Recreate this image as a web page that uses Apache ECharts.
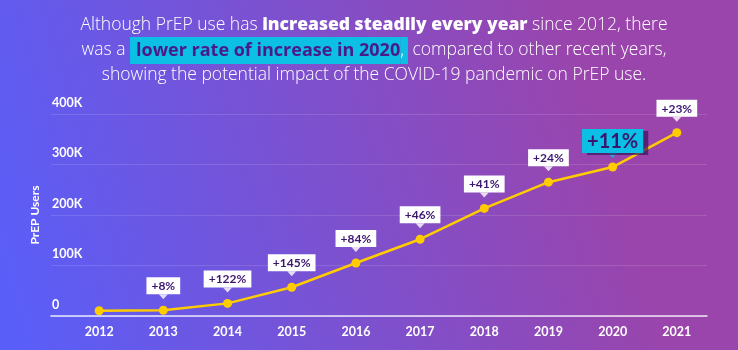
<!DOCTYPE html>
<html>
<head>
<meta charset="utf-8">
<script src="https://cdn.jsdelivr.net/npm/echarts@6/dist/echarts.min.js"></script>
<style>
  html, body { margin: 0; padding: 0; }
  #chart { width: 738px; height: 350px; }
</style>
</head>
<body>
<div id="chart"></div>
<script>
// data
const years = [2012, 2013, 2014, 2015, 2016, 2017, 2018, 2019, 2020, 2021];
const users = [10500, 11400, 25000, 57000, 105000, 152000, 213000, 265000, 295000, 363000];
const changes = ['', '+8%', '+122%', '+145%', '+84%', '+46%', '+41%', '+24%', '+11%', '+23%'];
const yTicks = [0, 100000, 200000, 300000, 400000];
const highlightYear = 2020;

const FONT = 'Lato';
const TITLE_FONT = 'Open Sans';
const INK = '#3b1670';
const CYAN = '#0cbfe4';

let chartDom = document.getElementById('chart');
let myChart = echarts.init(chartDom);

// line points, with the % change box above each one
let linePoints = years.map((y, i) => {
    let item = { value: [y, users[i]] };
    if (!changes[i]) {
        item.label = { show: false };
    } else if (y === highlightYear) {
        item.label = {
            show: true,
            distance: 9.5,
            backgroundColor: CYAN,
            fontSize: 20,
            padding: [3, 5, 1, 5],
            shadowColor: 'rgba(60,20,90,0.7)',
            shadowOffsetX: 5,
            shadowOffsetY: 2,
        };
    }
    return item;
});

// little pointer under each box
let pointers = [];
years.forEach((y, i) => {
    if (!changes[i]) return;
    let hl = y === highlightYear;
    pointers.push({
        value: [y, users[i]],
        symbolOffset: [0, hl ? -11.5 : -13.5],
        itemStyle: { color: hl ? CYAN : '#fff' },
    });
});

myChart.setOption({
    animation: false,
    backgroundColor: {
        type: 'linear',
        x: 0, y: 0.75, x2: 0.8, y2: 0.25,
        colorStops: [
            { offset: 0, color: '#5a5ef8' },
            { offset: 1, color: '#9a45ac' },
        ],
    },
    title: {
        left: 369,
        top: 8,
        textAlign: 'center',
        text: '{n|Although PrEP use has }{b|increased steadily every year}{n| since 2012, there}\n' +
            '{n|was a }{h|lower rate of increase in 2020}{hc|,}{n| compared to other recent years,}\n' +
            '{n|showing the potential impact of the COVID-19 pandemic on PrEP use.}',
        textStyle: {
            fontFamily: TITLE_FONT,
            rich: {
                n: { color: '#fff', fontSize: 17.5, fontFamily: TITLE_FONT, fontWeight: 300, lineHeight: 25 },
                b: { color: '#fff', fontSize: 17.5, fontFamily: TITLE_FONT, fontWeight: 800, lineHeight: 25 },
                h: {
                    color: '#4a1a8a', fontSize: 18, fontFamily: TITLE_FONT, fontWeight: 700,
                    backgroundColor: CYAN, padding: [5, 0, 4, 6], lineHeight: 18,
                },
                hc: {
                    color: '#fff', fontSize: 17.5, fontFamily: TITLE_FONT, fontWeight: 300,
                    backgroundColor: CYAN, padding: [5, 4, 4, 0], lineHeight: 18,
                },
            },
        },
    },
    grid: {
        left: 51,
        right: 31,
        top: 114,
        bottom: 34,
    },
    xAxis: {
        type: 'value',
        min: 2011.25,
        max: 2021.47,
        splitLine: { show: false },
        axisTick: { show: false },
        axisLine: {
            lineStyle: { color: 'rgba(255,255,255,0.85)', width: 1.5 },
        },
        axisLabel: {
            customValues: years,
            formatter: (v) => String(v),
            color: '#fff',
            fontFamily: FONT,
            fontWeight: 'bold',
            fontSize: 12.5,
            margin: 9,
        },
    },
    yAxis: {
        type: 'value',
        min: 0,
        max: 400000,
        interval: 100000,
        name: 'PrEP Users',
        nameLocation: 'middle',
        nameGap: 10,
        nameTextStyle: { color: '#fff', fontFamily: FONT, fontWeight: 'bold', fontSize: 12 },
        axisLine: { show: false },
        axisTick: { show: false },
        axisLabel: {
            inside: true,
            verticalAlign: 'bottom',
            margin: 1,
            padding: [0, 0, 5, 0],
            color: '#fff',
            fontFamily: FONT,
            fontWeight: 'bold',
            fontSize: 12.5,
            formatter: (v) => (yTicks.includes(v) ? (v === 0 ? '0' : v / 1000 + 'K') : ''),
        },
        splitLine: {
            lineStyle: { color: 'rgba(255,255,255,0.13)' },
        },
    },
    series: [
        {
            type: 'scatter',
            symbol: 'triangle',
            symbolRotate: 180,
            symbolSize: [9, 5],
            data: pointers,
            z: 3,
        },
        {
            type: 'line',
            data: linePoints,
            symbol: 'circle',
            symbolSize: 9,
            color: '#ffcc00',
            lineStyle: { width: 2.5, color: '#ffcc00' },
            itemStyle: { color: '#ffcc00' },
            z: 4,
            label: {
                show: true,
                position: 'top',
                distance: 11.5,
                formatter: (p) => changes[p.dataIndex],
                backgroundColor: '#fff',
                color: INK,
                fontFamily: FONT,
                fontWeight: 'bold',
                fontSize: 12,
                padding: [3, 5, 2, 5],
            },
        },
    ],
});
</script>
</body>
</html>
